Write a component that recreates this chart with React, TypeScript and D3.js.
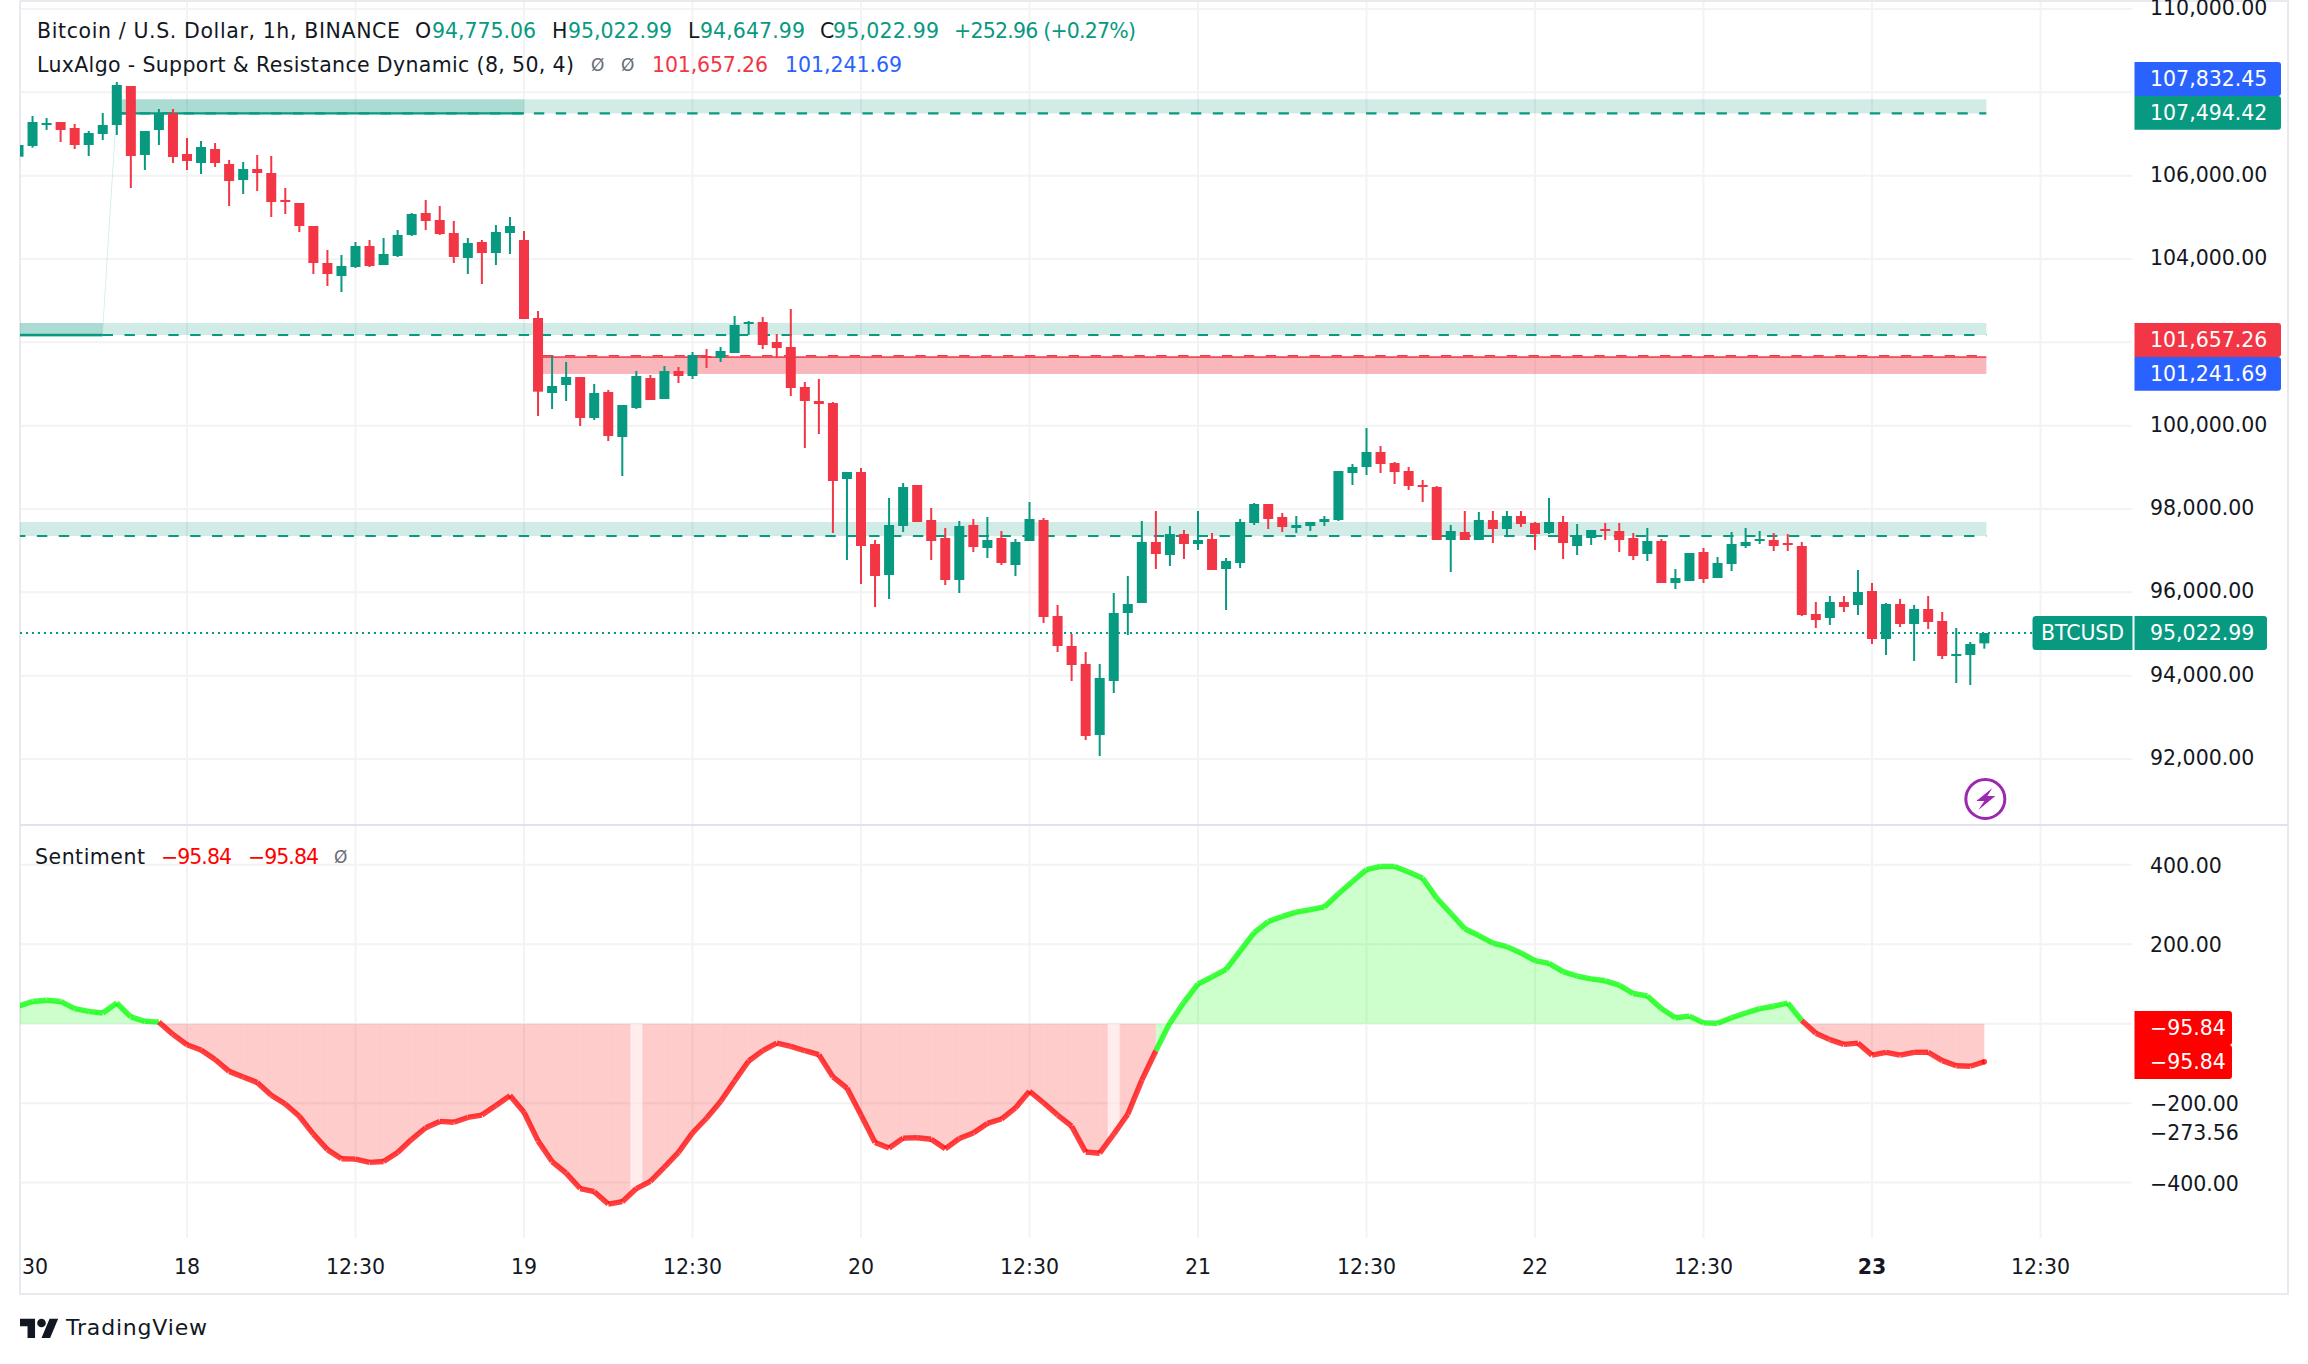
import React, { useEffect, useRef } from 'react';
import * as d3 from 'd3';

const opens = [
  106456, 106712, 107224, 107288, 107144, 106736, 107000, 107216, 108152, 106496,
  107096, 107496, 106520, 106304, 106640, 106280, 105896, 106160, 106064, 105416,
  105344, 104792, 103904, 103592, 103808, 104312, 103856, 104072, 104576, 105104,
  104936, 104624, 104024, 104408, 104144, 104624, 104456, 102584, 100784, 100976,
  101168, 100184, 100808, 99728, 100424, 101144, 100640, 101312, 101192, 101672,
  101624, 101744, 102440, 102488, 102008, 101888, 100928, 100592, 100544, 98720,
  98888, 97160, 96416, 97592, 98576, 97736, 97304, 96296, 97616, 97064,
  97304, 96656, 97232, 97736, 95432, 94712, 94280, 92576, 93872, 95504,
  95744, 97208, 96896, 97400, 97160, 97280, 96560, 96704, 97664, 98120,
  97808, 97544, 97592, 97688, 97736, 98864, 99008, 99368, 99104, 98912,
  98576, 98528, 97256, 97448, 97256, 97736, 97520, 97832, 97664, 97424,
  97688, 97112, 97304, 97520, 97472, 97304, 96920, 97232, 96224, 96272,
  96968, 96344, 96680, 97112, 97240, 97256, 97184, 97112, 95480, 95384,
  95768, 95696, 96032, 94880, 95720, 95240, 95600, 95312, 94472, 94496,
  94775.06,
];
const closes = [
  106736, 107288, 107264, 107096, 106736, 107024, 107216, 108176, 106472, 107072,
  107504, 106448, 106352, 106688, 106304, 105872, 106160, 106064, 105368, 105368,
  104792, 103904, 103640, 103832, 104312, 103832, 104120, 104576, 105080, 104912,
  104600, 104048, 104384, 104144, 104648, 104792, 102560, 100816, 100952, 101168,
  100184, 100784, 99752, 100496, 101192, 100616, 101312, 101192, 101696, 101648,
  101792, 102416, 102488, 101936, 101864, 100904, 100592, 100520, 98672, 98888,
  97112, 96392, 97616, 98528, 97688, 97232, 96296, 97592, 97088, 97256,
  96704, 97208, 97760, 95408, 94712, 94256, 92552, 93944, 95504, 95720,
  97208, 96920, 97400, 97160, 97256, 96536, 96752, 97688, 98120, 97760,
  97568, 97616, 97688, 97760, 98912, 99008, 99368, 99080, 98888, 98552,
  98528, 97256, 97472, 97256, 97736, 97520, 97832, 97640, 97400, 97688,
  97184, 97376, 97496, 97472, 97256, 96872, 97232, 96224, 96344, 96944,
  96320, 96704, 97160, 97208, 97280, 97112, 97136, 95456, 95336, 95768,
  95648, 96008, 94880, 95720, 95240, 95600, 95288, 94472, 94520, 94760,
  95022.99,
];
const highs = [
  106736, 107432, 107384, 107288, 107240, 107072, 107504, 108248, 108152, 107072,
  107600, 107600, 106904, 106832, 106784, 106376, 106328, 106496, 106472, 105704,
  105344, 104792, 104216, 104096, 104408, 104456, 104504, 104696, 105104, 105416,
  105272, 104912, 104504, 104456, 104816, 105008, 104672, 102752, 101672, 101528,
  101168, 101000, 100856, 100496, 101312, 101216, 101432, 101408, 101768, 101840,
  101888, 102632, 102512, 102608, 102200, 102800, 101048, 101120, 100568, 98888,
  98984, 97256, 98264, 98624, 98576, 98024, 97544, 97712, 97760, 97808,
  97472, 97280, 98168, 97784, 95696, 95000, 94568, 94280, 95984, 96392,
  97712, 97952, 97592, 97496, 97952, 97424, 96824, 97760, 98144, 98120,
  97904, 97832, 97688, 97832, 98912, 99080, 99944, 99512, 99128, 99008,
  98696, 98552, 97616, 97952, 97928, 97952, 97952, 97952, 97688, 98264,
  97832, 97640, 97496, 97664, 97664, 97424, 97544, 97280, 96560, 96944,
  97064, 96848, 97448, 97544, 97472, 97424, 97400, 97208, 95768, 95912,
  95912, 96536, 96224, 95744, 95840, 95696, 95912, 95528, 95144, 94808,
  95022.99,
];
const lows = [
  106456, 106672, 107096, 106808, 106640, 106472, 106856, 106976, 105704, 106136,
  106736, 106304, 106136, 106040, 106208, 105272, 105560, 105632, 105008, 105080,
  104648, 103640, 103352, 103208, 103784, 103808, 103856, 104048, 104552, 104696,
  104576, 103904, 103640, 103400, 103856, 104120, 102560, 100232, 100400, 100592,
  99992, 100136, 99632, 98792, 100400, 100616, 100640, 101024, 101120, 101384,
  101528, 101744, 102176, 101840, 101624, 100712, 99464, 99800, 97424, 96776,
  96200, 95648, 95840, 97448, 97688, 96776, 96176, 95984, 96968, 96824,
  96656, 96392, 97232, 95264, 94568, 93872, 92456, 92072, 93584, 94976,
  95744, 96560, 96632, 96800, 97016, 96536, 95576, 96584, 97616, 97520,
  97448, 97424, 97472, 97592, 97712, 98576, 98816, 98864, 98600, 98456,
  98168, 97256, 96488, 97256, 97256, 97184, 97328, 97568, 97016, 97400,
  96800, 96896, 97136, 97256, 96968, 96776, 96752, 96224, 96080, 96272,
  96224, 96344, 96512, 97064, 97160, 96992, 96992, 95432, 95144, 95216,
  95528, 95456, 94760, 94496, 95168, 94352, 95120, 94400, 93824, 93776,
  94647.99,
];
const sentiment = [
  44, 56, 59, 56, 38, 31, 27, 52, 17, 6,
  4, -27, -53, -66, -90, -120, -134, -148, -180, -202,
  -233, -278, -317, -340, -341, -349, -347, -324, -291, -262,
  -246, -248, -236, -230, -206, -181, -223, -295, -347, -376,
  -415, -423, -454, -448, -415, -397, -361, -324, -275, -238,
  -196, -144, -94, -68, -49, -57, -68, -78, -134, -162,
  -230, -299, -313, -288, -287, -291, -315, -289, -275, -251,
  -240, -212, -170, -199, -230, -258, -323, -326, -278, -228,
  -142, -68, 2, 54, 100, 118, 137, 183, 229, 257,
  270, 281, 287, 294, 327, 358, 388, 396, 396, 382,
  366, 316, 278, 239, 222, 203, 194, 178, 159, 152,
  131, 120, 113, 108, 97, 76, 70, 38, 15, 19,
  2, 1, 15, 27, 38, 44, 52, 8, -24, -40,
  -52, -49, -79, -72, -79, -72, -72, -93, -106, -107,
  -95.84,
];

// bars where the sentiment fill drops out
const fillGaps = [44, 78];

const priceTicks = [110000, 108000, 106000, 104000, 102000, 100000, 98000, 96000, 94000, 92000];
const priceTickLabels = [110000, 106000, 104000, 100000, 98000, 96000, 94000, 92000];
const sentimentTicks = [400, 200, 0, -200, -400];
const sentimentTickLabels = [400, 200, -200, -400];
const timeTickBars = [0, 12, 24, 36, 48, 60, 72, 84, 96, 108, 120, 132, 144];
const timeTickLabels = ['12:30', '18', '12:30', '19', '12:30', '20', '12:30', '21', '12:30', '22', '12:30', '23', '12:30'];

const resistanceTops = [107832.45, 102464, 97688];
const resistanceBottoms = [107494.42, 102176, 97352];
const supportTop = 101657.26;
const supportBottom = 101241.69;
const lastPrice = 95022.99;
const lastSentiment = -95.84;
const otherSentimentLabel = -273.56;

const GREEN = '#089981';
const RED = '#f23645';
const BLUE = '#2962ff';
const TEXT = '#131722';
const FONT = '"DejaVu Sans", sans-serif';

const fmt = d3.format(',.2f');
const fmtMinus = (v: number) => fmt(v).replace('-', '\u2212');

const App = () => {
  const svgRef = useRef<SVGSVGElement | null>(null);

  useEffect(() => {
    if (!svgRef.current) return;
    const svg = d3.select(svgRef.current);
    svg.selectAll('*').remove();

    const paneLeft = 20;
    const paneRight = 2132;
    const sepY = 825;
    const paneBottom = 1238;

    const x = d3.scaleLinear().domain([12, 132]).range([187, 1872]);
    const y = d3.scaleLinear().domain([92000, 110000]).range([759, 9]);
    const ys = d3.scaleLinear().domain([-400, 400]).range([1182.6, 864.8]);

    const defs = svg.append('defs');
    defs.append('clipPath').attr('id', 'plot').append('rect')
      .attr('x', paneLeft).attr('y', 0).attr('width', paneRight - paneLeft).attr('height', paneBottom);
    defs.append('clipPath').attr('id', 'axis').append('rect')
      .attr('x', paneLeft).attr('y', paneBottom).attr('width', 2260).attr('height', 60);

    // Grid
    const grid = svg.append('g').attr('stroke', '#f3f3f4').attr('stroke-width', 2);
    priceTicks.forEach(t => {
      grid.append('line').attr('x1', paneLeft).attr('x2', paneRight).attr('y1', y(t)).attr('y2', y(t));
    });
    sentimentTicks.forEach(t => {
      grid.append('line').attr('x1', paneLeft).attr('x2', paneRight).attr('y1', ys(t)).attr('y2', ys(t));
    });
    timeTickBars.slice(1).forEach(b => {
      grid.append('line').attr('x1', x(b)).attr('x2', x(b)).attr('y1', 0).attr('y2', paneBottom);
    });

    // Frame
    const frame = svg.append('g').attr('stroke', '#e9eaf0').attr('stroke-width', 2).attr('fill', 'none');
    frame.append('path').attr('d', 'M20,1V1294H2288V1H20');
    svg.append('line').attr('x1', 20).attr('x2', 2288).attr('y1', sepY).attr('y2', sepY)
      .attr('stroke', '#e0e3eb').attr('stroke-width', 2);

    const plot = svg.append('g').attr('clip-path', 'url(#plot)');

    // Zones
    const zoneEnd = x(140) + 2;
    const startBars = [7, 0, 0];
    resistanceTops.forEach((top, i) => {
      plot.append('rect')
        .attr('x', x(startBars[i])).attr('width', zoneEnd - x(startBars[i]))
        .attr('y', y(top)).attr('height', y(resistanceBottoms[i]) - y(top))
        .attr('fill', GREEN).attr('fill-opacity', 0.19);
      plot.append('line')
        .attr('x1', i === 0 ? x(7) + 1 : 15).attr('x2', zoneEnd)
        .attr('y1', y(resistanceBottoms[i])).attr('y2', y(resistanceBottoms[i]))
        .attr('stroke', GREEN).attr('stroke-width', 2.2).attr('stroke-dasharray', '10.4 11.5');
    });
    // earlier, overlapping segment of the two upper zones
    plot.append('rect')
      .attr('x', x(7) + 5).attr('width', x(36) - x(7) - 5)
      .attr('y', y(resistanceTops[0])).attr('height', y(resistanceBottoms[0]) - y(resistanceTops[0]))
      .attr('fill', GREEN).attr('fill-opacity', 0.19);
    plot.append('line')
      .attr('x1', x(7)).attr('x2', x(36))
      .attr('y1', y(resistanceBottoms[0])).attr('y2', y(resistanceBottoms[0]))
      .attr('stroke', GREEN).attr('stroke-width', 2.4);
    plot.append('rect')
      .attr('x', x(0)).attr('width', x(6) - x(0))
      .attr('y', y(resistanceTops[1])).attr('height', y(resistanceBottoms[1]) - y(resistanceTops[1]) + 2)
      .attr('fill', GREEN).attr('fill-opacity', 0.19);
    plot.append('line')
      .attr('x1', x(0)).attr('x2', x(6))
      .attr('y1', y(resistanceBottoms[1])).attr('y2', y(resistanceBottoms[1]))
      .attr('stroke', GREEN).attr('stroke-width', 2.4);
    // step between the zones
    plot.append('path')
      .attr('d', d3.line()([
        [x(6), y(resistanceTops[1])], [x(7), y(resistanceTops[0])],
        [x(7), y(resistanceBottoms[0])], [x(6), y(resistanceBottoms[1])],
      ]) + 'Z')
      .attr('fill', GREEN).attr('fill-opacity', 0.19);

    for (let k = 0; k < 2; k++) {
      plot.append('rect')
        .attr('x', x(37)).attr('width', zoneEnd - x(37))
        .attr('y', y(supportTop)).attr('height', y(supportBottom) - y(supportTop))
        .attr('fill', RED).attr('fill-opacity', 0.2);
    }
    plot.append('line')
      .attr('x1', x(37)).attr('x2', zoneEnd)
      .attr('y1', y(supportTop) + 0.5).attr('y2', y(supportTop) + 0.5)
      .attr('stroke', RED).attr('stroke-width', 1.6).attr('stroke-opacity', 0.85);
    plot.append('line')
      .attr('x1', x(37) + 5).attr('x2', zoneEnd)
      .attr('y1', y(supportTop) - 0.8).attr('y2', y(supportTop) - 0.8)
      .attr('stroke', RED).attr('stroke-width', 1.6).attr('stroke-dasharray', '10.4 11.5');

    // Last price line
    plot.append('line')
      .attr('x1', paneLeft).attr('x2', paneRight)
      .attr('y1', y(lastPrice)).attr('y2', y(lastPrice))
      .attr('stroke', GREEN).attr('stroke-width', 2).attr('stroke-dasharray', '2 4');

    // Candles
    const bars = d3.range(opens.length);
    const colorOf = (i: number) => (closes[i] >= opens[i] ? GREEN : RED);
    plot.selectAll('.wick').data(bars).enter().append('rect')
      .attr('class', 'wick')
      .attr('x', i => x(i) - 1).attr('width', 2)
      .attr('y', i => y(highs[i])).attr('height', i => y(lows[i]) - y(highs[i]))
      .attr('fill', colorOf);
    plot.selectAll('.body').data(bars).enter().append('rect')
      .attr('class', 'body')
      .attr('x', i => x(i) - 5).attr('width', 10)
      .attr('y', i => y(Math.max(opens[i], closes[i])))
      .attr('height', i => Math.max(2, Math.abs(y(opens[i]) - y(closes[i]))))
      .attr('fill', colorOf);

    // Sentiment fills, one segment per bar
    const posColor = '#00ff00';
    const negColor = '#ff0000';
    const segColor = (i: number) => (sentiment[i] >= 0 ? posColor : negColor);
    const segLine = d3.line();
    bars.slice(1).forEach(i => {
      plot.append('path')
        .attr('d', segLine([
          [x(i - 1), ys(sentiment[i - 1])], [x(i), ys(sentiment[i])],
          [x(i), ys(0)], [x(i - 1), ys(0)],
        ]) + 'Z')
        .attr('fill', segColor(i)).attr('fill-opacity', 0.2);
    });
    fillGaps.forEach(g => {
      const at = (t: number) => sentiment[g] + (sentiment[g + Math.sign(t)] - sentiment[g]) * Math.abs(t);
      const half = 6 / (x(1) - x(0));
      plot.append('path')
        .attr('d', segLine([
          [x(g - half), ys(0)], [x(g - half), ys(at(-half))], [x(g), ys(sentiment[g])],
          [x(g + half), ys(at(half))], [x(g + half), ys(0)],
        ]) + 'Z')
        .attr('fill', '#fff').attr('fill-opacity', 0.62);
    });
    // Sentiment line
    bars.slice(1).forEach(i => {
      plot.append('line')
        .attr('x1', x(i - 1)).attr('y1', ys(sentiment[i - 1]))
        .attr('x2', x(i)).attr('y2', ys(sentiment[i]))
        .attr('stroke', segColor(i)).attr('stroke-opacity', 0.75)
        .attr('stroke-width', 5.4).attr('stroke-linecap', 'butt');
    });
    plot.append('circle')
      .attr('cx', x(140)).attr('cy', ys(lastSentiment)).attr('r', 2.7)
      .attr('fill', negColor).attr('fill-opacity', 0.75);

    const text = (str: string, tx: number, ty: number, opts: { fill?: string; size?: number; anchor?: string; weight?: string; length?: number } = {}) => {
      const t = svg.append('text')
        .attr('x', tx).attr('y', ty)
        .attr('font-family', FONT)
        .attr('font-size', opts.size ?? 20.5)
        .attr('font-weight', opts.weight ?? 'normal')
        .attr('fill', opts.fill ?? TEXT)
        .attr('text-anchor', opts.anchor ?? 'start')
        .attr('dominant-baseline', 'central')
        .text(str);
      if (opts.length) t.attr('textLength', opts.length);
      return t;
    };

    // Legends
    text('Bitcoin / U.S. Dollar, 1h, BINANCE', 37, 31, { length: 363 });
    text('O', 415, 31);
    text('94,775.06', 432, 31, { fill: GREEN, length: 104 });
    text('H', 552, 31);
    text('95,022.99', 568, 31, { fill: GREEN, length: 104 });
    text('L', 688, 31);
    text('94,647.99', 700, 31, { fill: GREEN, length: 105 });
    text('C', 820, 31);
    text('95,022.99', 833, 31, { fill: GREEN, length: 106 });
    text('+252.96 (+0.27%)', 954, 31, { fill: GREEN, length: 182 });
    text('LuxAlgo - Support & Resistance Dynamic (8, 50, 4)', 37, 65, { length: 537 });
    text('\u00d8', 591, 65, { fill: '#6a6d78', size: 17 });
    text('\u00d8', 621, 65, { fill: '#6a6d78', size: 17 });
    text(fmt(supportTop), 652, 65, { fill: RED, length: 116 });
    text(fmt(supportBottom), 785, 65, { fill: BLUE, length: 117 });
    text('Sentiment', 35, 857, { length: 110 });
    text(fmtMinus(lastSentiment), 161, 857, { fill: '#ff0000', length: 71 });
    text(fmtMinus(lastSentiment), 248, 857, { fill: '#ff0000', length: 71 });
    text('\u00d8', 334, 857, { fill: '#6a6d78', size: 17 });

    // Price scale
    const axisX = 2150;
    priceTickLabels.forEach(t => text(fmt(t), axisX, y(t) - 1));
    sentimentTickLabels.forEach(t => text(fmtMinus(t), axisX, ys(t) + 1));
    text(fmtMinus(otherSentimentLabel), axisX, ys(otherSentimentLabel) + 1);

    const rightTag = (x0: number, x1: number, y0: number, y1: number) =>
      `M${x0},${y0}H${x1 - 3}Q${x1},${y0} ${x1},${y0 + 3}V${y1 - 3}Q${x1},${y1} ${x1 - 3},${y1}H${x0}Z`;
    const tag = (value: number, fill: string, y0: number, y1: number, right = 2281) => {
      svg.append('path').attr('d', rightTag(2134.5, right, y0, y1)).attr('fill', fill);
      text(fmtMinus(value), axisX, (y0 + y1) / 2, { fill: '#fff' });
    };
    tag(resistanceTops[0], BLUE, 62, 96);
    tag(resistanceBottoms[0], GREEN, 96, 129.7);
    tag(supportTop, RED, 323, 357);
    tag(supportBottom, BLUE, 357, 390.7);
    tag(lastPrice, GREEN, 616, 650, 2267);
    tag(lastSentiment, '#ff0000', 1011, 1045, 2232);
    tag(lastSentiment, '#ff0000', 1045, 1079, 2232);

    svg.append('path')
      .attr('d', 'M2132.5,616H2036Q2032.5,616 2032.5,619.5V646.5Q2032.5,650 2036,650H2132.5Z')
      .attr('fill', GREEN);
    text('BTCUSD', 2041, 633, { fill: '#fff', length: 83 });

    // Time scale
    const axisG = svg.append('g').attr('clip-path', 'url(#axis)');
    timeTickBars.forEach((b, i) => {
      axisG.append('text')
        .attr('x', x(b)).attr('y', 1266.5)
        .attr('font-family', FONT).attr('font-size', 20.5)
        .attr('font-weight', timeTickLabels[i] === '23' ? 'bold' : 'normal')
        .attr('fill', TEXT).attr('text-anchor', 'middle').attr('dominant-baseline', 'central')
        .text(timeTickLabels[i]);
    });

    // Flash icon
    const icon = svg.append('g').attr('transform', `translate(${x(140) + 1},799)`);
    icon.append('circle').attr('r', 19.5).attr('fill', '#fff').attr('stroke', '#9c27b0').attr('stroke-width', 3);
    icon.append('path').attr('d', 'M7,-11L-9,2H-1L-7,11L10,-3H2Z').attr('fill', '#9c27b0');

    // TradingView logo
    const logo = svg.append('g').attr('transform', 'translate(20,1314.4) scale(1.075)').attr('fill', TEXT);
    logo.append('path').attr('d', 'M14 22H7V11H0V4h14v18zM28 22h-8l7.5-18h8L28 22z');
    logo.append('circle').attr('cx', 20).attr('cy', 8).attr('r', 4);
    text('TradingView', 66, 1327, { length: 141, size: 22 });
  }, []);

  return (
    <svg
      ref={svgRef}
      width={2308}
      height={1364}
      style={{ position: 'absolute', left: 0, top: 0, background: '#fff' }}
    />
  );
};

export default App;
